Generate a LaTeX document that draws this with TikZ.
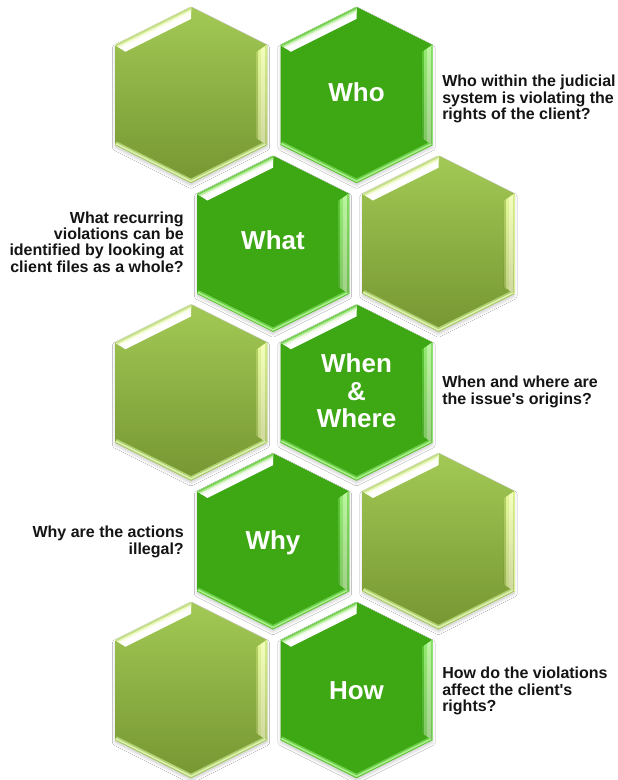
\documentclass[tikz,border=0pt]{standalone}
\usepackage{fontspec}
\setmainfont{Liberation Sans}
\usetikzlibrary{shadows.blur,fadings}

% light (olive) cells
\definecolor{ltTop}{HTML}{A2C955}
\definecolor{ltBot}{HTML}{769632}
\definecolor{ltTLa}{HTML}{FFFFFF}
\definecolor{ltTLb}{HTML}{FBFEEC}
\definecolor{ltTLc}{HTML}{E8F6B8}
\definecolor{ltTLd}{HTML}{C2DE84}
\definecolor{ltRa}{HTML}{B4D266}
\definecolor{ltRb}{HTML}{E4F89A}
\definecolor{ltRc}{HTML}{F4FFBC}
\definecolor{ltRd}{HTML}{D4EE8C}
\definecolor{ltBa}{HTML}{B0D070}
\definecolor{ltBb}{HTML}{DDF2B0}
\definecolor{ltBc}{HTML}{A2C462}
% dark (green) cells
\definecolor{dkFace}{HTML}{3DA714}
\definecolor{dkTLa}{HTML}{FFFFFF}
\definecolor{dkTLb}{HTML}{EEFAE4}
\definecolor{dkTLc}{HTML}{B4EC9A}
\definecolor{dkTLd}{HTML}{74D050}
\definecolor{dkRa}{HTML}{5CC836}
\definecolor{dkRb}{HTML}{96EA74}
\definecolor{dkRc}{HTML}{BCF6A0}
\definecolor{dkRd}{HTML}{86DE64}
\definecolor{dkBa}{HTML}{6ACE46}
\definecolor{dkBb}{HTML}{AEF090}
\definecolor{dkBc}{HTML}{5ABE34}

\tikzset{
  ltface/.style={top color=ltTop, bottom color=ltBot},
  dkface/.style={fill=dkFace},
  cellshadow/.style={blur shadow={shadow xshift=0pt, shadow yshift=-2pt,
      shadow blur radius=2pt, shadow opacity=18}},
  hexlabel/.style={text=white, font=\bfseries\fontsize{19.5}{20.5}\selectfont,
      inner sep=0pt, align=center},
  sidetext/.style={text=black!92, font=\bfseries\fontsize{12}{12.2}\selectfont,
      inner sep=0pt},
}

% a bevelled hexagon: #1,#2 centre, #3 colour scheme (lt or dk)
\newcommand\hexcell[3]{%
  \begin{scope}[shift={(#1,#2)}]
    \path[#3face, cellshadow]
      (0,-88) -- (76,-50) -- (76,50) -- (0,88) -- (-76,50) -- (-76,-50) -- cycle;
    % lower rim
    \begin{scope}
      \clip (0,-88) -- (76,-50) -- (76,50) -- (0,88) -- (-76,50) -- (-76,-50) -- cycle;
      \foreach \w/\c in {6pt/#3Ba, 3.5pt/#3Bb, 1pt/#3Bc}
        \draw[line width=\w, color=\c, line join=miter]
          (86,45) -- (76,50) -- (0,88) -- (-76,50);
    \end{scope}
    % right bevel
    \begin{scope}
      \clip (76,-50) -- (76,50) -- (65,42.8) -- (65,-42.8) -- cycle;
      \foreach \w/\c in {16.5pt/#3Ra, 13.5pt/#3Rb, 8.5pt/#3Rc, 3pt/#3Rd}
        \draw[line width=\w, color=\c] (76,-60) -- (76,60);
      \fill[black, path fading=north, fill opacity=0.15]
        (76,-50) -- (76,50) -- (65,42.8) -- (65,-42.8) -- cycle;
    \end{scope}
    % upper-left bevel
    \begin{scope}
      \clip (-76,-50) -- (0,-88) -- (0,-75.3) -- (-65,-42.8) -- cycle;
      \foreach \w/\c in {16pt/#3TLa, 8pt/#3TLb, 5pt/#3TLc, 2.5pt/#3TLd}
        \draw[line width=\w, color=\c] (-91.2,-42.4) -- (15.2,-95.6);
    \end{scope}
  \end{scope}}

\begin{document}
\begin{tikzpicture}[x=0.75pt, y=-0.75pt]
  \fill[white] (0,0) rectangle (617,780);
  \path[use as bounding box] (0,0) rectangle (617,780);

  % honeycomb, row by row
  \hexcell{191}{95}{lt}
  \hexcell{356.5}{95}{dk}
  \hexcell{273}{243.75}{dk}
  \hexcell{438.5}{243.75}{lt}
  \hexcell{191}{392.5}{lt}
  \hexcell{356.5}{392.5}{dk}
  \hexcell{273}{541.25}{dk}
  \hexcell{438.5}{541.25}{lt}
  \hexcell{191}{690}{lt}
  \hexcell{356.5}{690}{dk}

  % cell titles
  \node[hexlabel, anchor=base] (who)  at (356.5,102) {Who};
  \node[hexlabel, anchor=base] (what) at (273,250)   {What};
  \node[hexlabel]              (when) at (356.5,391) {When\\\&\\Where};
  \node[hexlabel, anchor=base] (why)  at (273,549)   {Why};
  \node[hexlabel, anchor=base] (how)  at (356.5,699) {How};

  % questions
  \node[sidetext, anchor=west, align=left] (whoq) at (442,99)
    {Who within the judicial\\system is violating the\\rights of the client?};
  \node[sidetext, anchor=east, align=right] (whatq) at (184,242)
    {What recurring\\violations can be\\identified by looking at\\client files as a whole?};
  \node[sidetext, anchor=west, align=left] (whenq) at (442,392)
    {When and where are\\the issue\textquotesingle s origins?};
  \node[sidetext, anchor=east, align=right] (whyq) at (184,542)
    {Why are the actions\\illegal?};
  \node[sidetext, anchor=west, align=left] (howq) at (442,691)
    {How do the violations\\affect the client\textquotesingle s\\rights?};
\end{tikzpicture}
\end{document}
